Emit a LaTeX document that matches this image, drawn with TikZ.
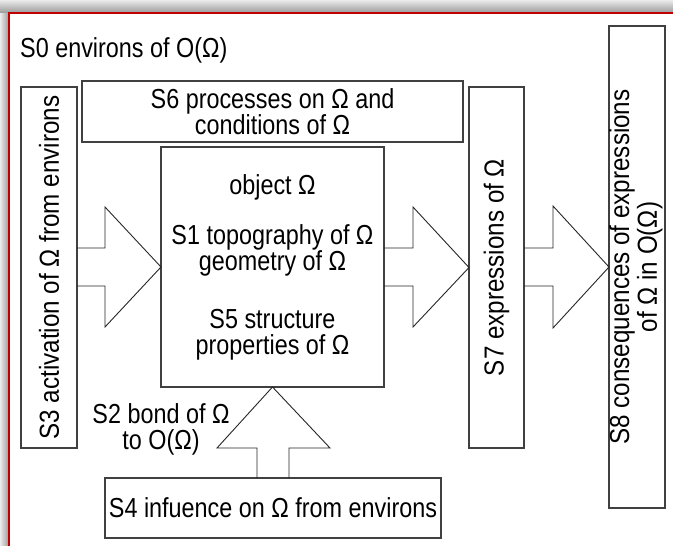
\documentclass[tikz,border=0pt]{standalone}
\usepackage{fontspec}
\setmainfont{Liberation Sans}[FakeStretch=0.85]
\newfontfamily\rotfont{Liberation Sans}[FakeStretch=0.88]
\usepackage{graphicx}
\tikzstyle{sbox}=[draw=black!75, line width=1.4pt, inner sep=0, outer sep=0]
\tikzstyle{rotbox}=[sbox, font=\rotfont\fontsize{27.5}{28}\selectfont]
\tikzstyle{sarrow}=[draw=black!85, line width=0.9pt, line join=miter]
\tikzstyle{stext}=[inner sep=0, align=center]
\tikzstyle{diagram}=[x=1pt, y=-1pt,
                     % narrow Arial-like text
                     every node/.style={font=\fontsize{27.5}{26}\selectfont}]
\begin{document}
\begin{tikzpicture}[diagram]
  \useasboundingbox (0,0) rectangle (673,546);
  % frame and its shadow
  \shade[top color=black!8, bottom color=black!40] (0,0) rectangle (673,13);
  \shade[left color=black!8, right color=black!40] (0,13) rectangle (9,546);
  \fill[white] (9,13) rectangle (673,546);
  \draw[red!75!black, line width=2pt] (9,546) -- (9,13) -- (673,13);

  \node[stext, anchor=west] (S0) at (20,50) {S0 environs of O(Ω)};
  \node[rotbox, minimum width=56pt, minimum height=361pt] (S3) at (49,267.5)
       {\rotatebox{90}{S3 activation of Ω from environs}};
  \node[sbox, minimum width=381pt, minimum height=61pt, align=center] (S6) at (272.5,111.5)
       {S6 processes on Ω and\\conditions of Ω};
  \node[sbox, minimum width=223pt, minimum height=240pt, align=center] (obj) at (272.5,267)
       {object Ω\\[24pt]S1 topography of Ω\\geometry of Ω\\[32pt]S5 structure\\properties of Ω};
  \node[rotbox, minimum width=55pt, minimum height=361pt] (S7) at (496.5,267.5)
       {\rotatebox{90}{S7 expressions of Ω}};
  \node[rotbox, minimum width=56pt, minimum height=482pt] (S8) at (637,267)
       {\rotatebox{90}{\renewcommand{\arraystretch}{0.93}\begin{tabular}{@{}c@{}}S8 consequences of expressions\\of Ω in O(Ω)\end{tabular}}};
  \node[sbox, minimum width=336pt, minimum height=60pt] (S4) at (273,508)
       {S4 infuence on Ω from environs};
  \node[stext] (S2) at (161,429) {S2 bond of Ω\\to O(Ω)};

  % block arrows
  \draw[sarrow] (S3.east |- 0,248) -- (105,248) -- (105,207) -- (obj.west)
                -- (105,327) -- (105,286) -- (S3.east |- 0,286);
  \draw[sarrow] (obj.east |- 0,248) -- (413,248) -- (413,207) -- (S7.west)
                -- (413,327) -- (413,286) -- (obj.east |- 0,286);
  \draw[sarrow] (S7.east |- 0,248) -- (553,248) -- (553,206) -- (S8.west)
                -- (553,328) -- (553,286) -- (S7.east |- 0,286);
  \draw[sarrow] (S4.north -| 257,0) -- (257,448) -- (217,448) -- (obj.south)
                -- (330,448) -- (289,448) -- (S4.north -| 289,0);
\end{tikzpicture}
\end{document}
